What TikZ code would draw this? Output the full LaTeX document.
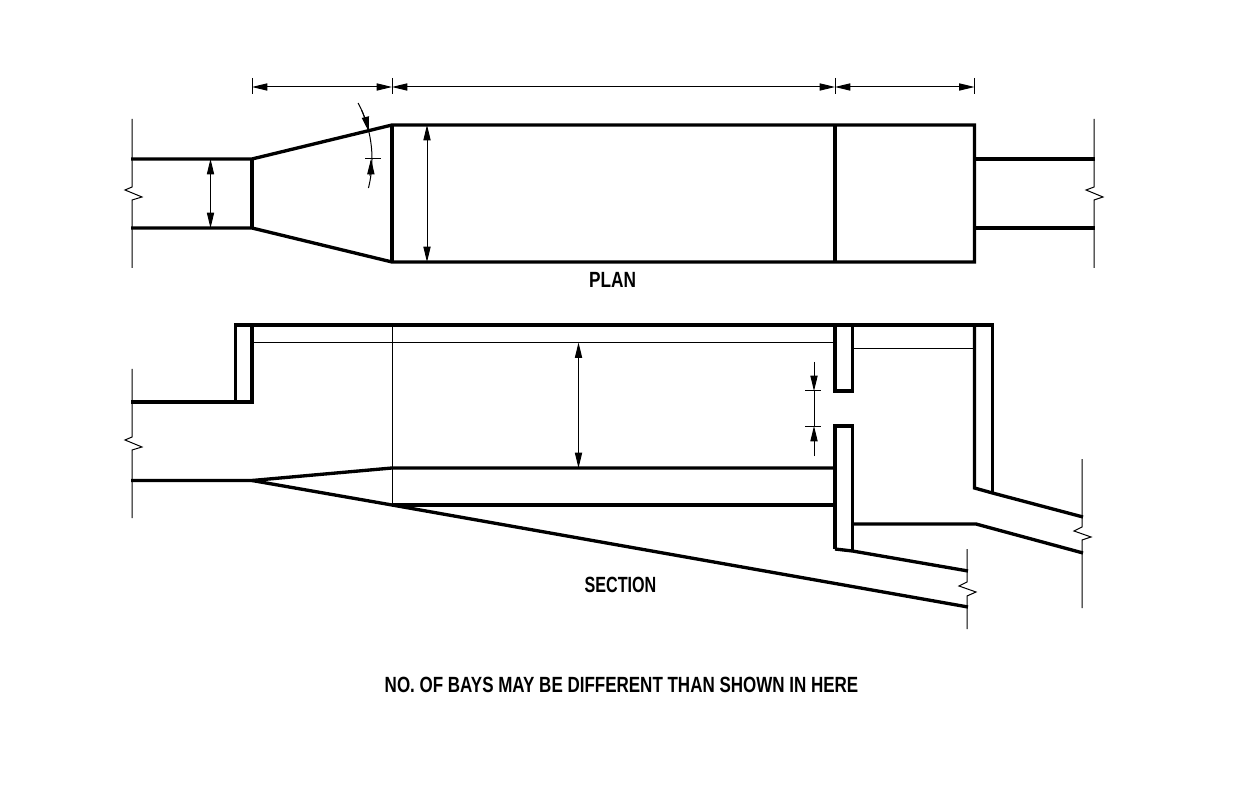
\documentclass[tikz,border=0pt]{standalone}
\usepackage{fontspec}
\usepackage{graphicx}
\setmainfont{Liberation Sans}
\newfontfamily\cadfont[FakeStretch=0.78]{Liberation Sans Bold}
\usetikzlibrary{arrows.meta}
\tikzset{
  heavy/.style={line width=2.5pt,line join=miter,line cap=butt},
  fine/.style={line width=0.75pt},
  dimline/.style={fine,{Triangle[length=11.5pt,width=5.4pt]}-{Triangle[length=11.5pt,width=5.4pt]}},
  dimend/.style={fine,-{Triangle[length=11.5pt,width=5.4pt]}},
  title/.style={inner sep=0pt,font=\cadfont\fontsize{16.5}{17}\selectfont}
}
\begin{document}
\begin{tikzpicture}[x=0.75pt,y=-0.75pt]
\useasboundingbox (0,0) rectangle (1255,812);
\fill[white] (0,0) rectangle (1255,812);
% ---------- PLAN ----------
\draw[heavy] (131,159) -- (252,159) -- (392,125) -- (974.5,125) -- (974.5,262) -- (392,262) -- (252,228) -- (131,228);
\draw[heavy] (252,159) -- (252,228);
\draw[heavy] (392,125) -- (392,262);
\draw[heavy] (835,125) -- (835,262);
\draw[heavy] (974.5,159) -- (1095,159);
\draw[heavy] (974.5,228) -- (1095,228);
% break lines
\draw[fine] (132,119) -- (132,187) -- (125,190) -- (142,197) -- (132,200) -- (132,268);
\draw[fine] (1094,119) -- (1094,187) -- (1086,190) -- (1103,197) -- (1094,200) -- (1094,268);
% dimensions
\draw[fine] (252,78) -- (252,94);
\draw[fine] (392,78) -- (392,94);
\draw[fine] (835,78) -- (835,94);
\draw[fine] (974.5,78) -- (974.5,94);
\draw[dimline] (252,87) -- (392,87);
\draw[dimline] (392,87) -- (835,87);
\draw[dimline] (835,87) -- (974.5,87);
\draw[dimline] (210.5,159) -- (210.5,228);
\draw[dimline] (427,125) -- (427,262);
% angle
\draw[fine,domain=-27.8:14,samples=40,variable=\a] plot ({252+120*cos(\a)},{159+120*sin(\a)});
\draw[dimend,domain=-24:-13,samples=12,variable=\a] plot ({252+120*cos(\a)},{159+120*sin(\a)});
\draw[dimend,domain=8:0,samples=10,variable=\a] plot ({252+119*cos(\a)},{159+119*sin(\a)});
\draw[fine] (365,159) -- (381,159);
\node[title,anchor=center] (plan) at (612.5,279.5) {\scalebox{1.005}[1]{PLAN}};
% ---------- SECTION ----------
\draw[heavy] (131,402) -- (252,402) -- (252,325);
\draw[heavy] (235.5,402) -- (235.5,325);
\draw[heavy] (234.4,325) -- (992.5,325) -- (992.5,493);
\draw[heavy] (974.5,325) -- (974.5,488) -- (992.5,493) -- (1083,517);
\draw[heavy] (835,325) -- (835,391) -- (852.5,391) -- (852.5,325);
\draw[heavy] (835,468) -- (392,468) -- (252,480.5) -- (131,480.5);
\draw[heavy] (252,480.5) -- (392,505) -- (968,607);
\draw[heavy] (392,505) -- (835,505);
\draw[heavy] (835,549) -- (835,426) -- (852.5,426) -- (852.5,551);
\draw[heavy] (835,549) -- (852.5,551) -- (968,571);
\draw[heavy] (852.5,524) -- (976,524) -- (1083,553);
% thin lines
\draw[fine] (252,342.5) -- (835,342.5);
\draw[fine] (852.5,348.5) -- (974.5,348.5);
\draw[fine] (392,325) -- (392,505);
% break lines
\draw[fine] (132,369) -- (132,437) -- (125,440) -- (142,447) -- (132,450) -- (132,518);
\draw[fine] (1082,459) -- (1082,527) -- (1074,531) -- (1091,537) -- (1082,540) -- (1082,608);
\draw[fine] (967,549) -- (967,582) -- (959,586) -- (976,592) -- (967,596) -- (967,629);
% dimensions
\draw[dimline] (578.5,342.5) -- (578.5,468);
\draw[fine] (814,391) -- (814,426);
\draw[dimend] (814,362) -- (814,391);
\draw[dimend] (814,456) -- (814,426);
\draw[fine] (805,391) -- (821,391);
\draw[fine] (805,426) -- (821,426);
\node[title,anchor=center] (section) at (620.5,584.5) {\scalebox{0.94}[1]{SECTION}};
\node[title,anchor=center] (note) at (621.5,685) {\scalebox{0.99}[1]{NO. OF BAYS MAY BE DIFFERENT THAN SHOWN IN HERE}};
\end{tikzpicture}
\end{document}
